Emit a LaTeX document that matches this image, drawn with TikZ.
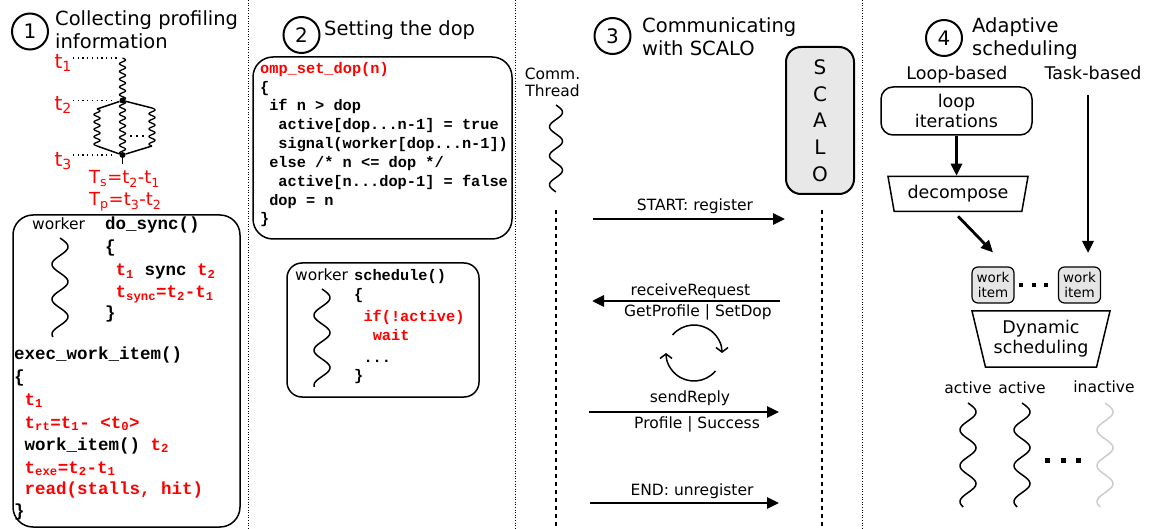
\documentclass[tikz,border=0pt]{standalone}
\usepackage{fontspec}
\setmainfont{DejaVu Sans}
\setmonofont{Liberation Mono}
\usetikzlibrary{shapes.geometric}
\usetikzlibrary{arrows.meta}
\tikzstyle{sep}=[line width=1pt, dash pattern=on 1pt off 1.6pt]
\tikzstyle{numcircle}=[circle, draw, line width=2pt, minimum size=36pt, inner sep=0pt, font=\fontsize{20}{20}\selectfont]
\tikzstyle{title}=[anchor=north west, inner sep=0pt, align=left, font=\fontsize{19.5}{23}\selectfont]
\tikzstyle{lbl}=[anchor=base, inner sep=0pt, font=\fontsize{15.5}{17}\selectfont]
\tikzstyle{biglbl}=[anchor=base, inner sep=0pt, font=\fontsize{17.5}{20}\selectfont]
\tikzstyle{code}=[anchor=base west, inner sep=0pt, font=\fontsize{17.5}{20}\selectfont\ttfamily\bfseries]
\tikzstyle{smallcode}=[code, font=\fontsize{15.3}{19}\selectfont\ttfamily\bfseries]
\tikzstyle{codebox}=[draw, line width=1.5pt, rounded corners=20pt, inner sep=0pt]
\tikzstyle{arrow}=[-{Triangle[length=12pt,width=11pt]}, line width=2.8pt]
\tikzstyle{cycle}=[-{Straight Barb[length=4.5pt,width=12pt]}, line width=1.5pt]
\tikzstyle{lifeline}=[line width=1.5pt, dash pattern=on 4pt off 4pt]
\tikzstyle{guide}=[line width=1.3pt, dash pattern=on 1.3pt off 3.4pt]
\tikzstyle{dot}=[circle, fill, inner sep=0pt, minimum size=6pt]
\tikzstyle{tlabel}=[anchor=east, inner sep=1pt, text=red, font=\fontsize{20}{20}\selectfont]
\tikzstyle{item}=[draw, fill=black!10, line width=1.2pt, rounded corners=6pt, minimum width=42pt, minimum height=36pt, inner sep=0pt, align=center, font=\fontsize{13.5}{15.5}\selectfont]
\tikzstyle{funnel}=[draw, line width=1.5pt, trapezium, shape border rotate=180, trapezium stretches body, trapezium angle=70, inner sep=0pt, align=center, font=\fontsize{17.5}{20}\selectfont]
\newcommand{\redt}[1]{\textcolor{red}{#1}}
% wavy thread: [style]{x}{y top}{y bottom}{amplitude}{periods}
\newcommand{\thread}[6][]{\draw[line width=1.5pt, domain=0:1, samples=140, smooth, #1] plot ({#2+#5*sin(360*#6*\x)}, {#3+(#4-#3)*\x});}

\begin{document}
\begin{tikzpicture}[x=1pt, y=-1pt]
  \useasboundingbox (0,0) rectangle (1151,529);
  % column separators
  \draw[sep] (248,0) -- (248,529);
  \draw[sep] (515,0) -- (515,529);
  \draw[sep] (862,0) -- (862,529);

  % (1) profiling
  \node[numcircle] (none) at (30,31.5) {1};
  \node[title] at (55,10.2) {Collecting profiling\\information};
  \node[tlabel] (tone) at (73,63) {t\textsubscript{1}};
  \node[tlabel] (ttwo) at (73,105) {t\textsubscript{2}};
  \node[tlabel] (tthree) at (73,161) {t\textsubscript{3}};
  \coordinate (top) at (122.5,58);
  \node[dot] (fork) at (122.5,100.5) {};
  \node[dot] (join) at (122.5,155) {};
  \coordinate (lt) at (97,109);
  \coordinate (rt) at (152,108);
  \coordinate (lb) at (97,146);
  \coordinate (rb) at (152,146);
  \draw[guide, shorten >=6pt] (tone.east |- top) -- (top);
  \draw[guide, shorten >=6pt] (ttwo.east |- fork) -- (fork);
  \draw[guide, shorten >=6pt] (tthree.east |- join) -- (join);
  \thread[line width=1.3pt]{122.5}{58}{100.5}{3}{5.5}
  \thread[line width=1.3pt]{122.5}{100.5}{155}{3}{7}
  \thread[line width=1.3pt]{97}{109}{146}{3}{5}
  \thread[line width=1.3pt]{152}{108}{146}{3}{5}
  \draw[line width=1.5pt] (lt) -- (fork) -- (rt);
  \draw[line width=1.5pt] (lb) -- (join) -- (rb);
  \draw[line width=1.5pt] (join) -- ++(0,9);
  \draw[line width=1.5pt, dash pattern=on 1.5pt off 4.5pt] (130,136) -- (145,136);
  \node[anchor=base west, inner sep=0pt, text=red, font=\fontsize{18}{18}\selectfont] (tsdiff) at (89,184) {T\textsubscript{s}=t\textsubscript{2}-t\textsubscript{1}};
  \node[anchor=base west, inner sep=0pt, text=red, font=\fontsize{18}{18}\selectfont] (tpdiff) at (89,206) {T\textsubscript{p}=t\textsubscript{3}-t\textsubscript{2}};

  \node[codebox, minimum width=227pt, minimum height=312pt] (profbox) at (126.5,371) {};
  \node[lbl, anchor=base west] (wone) at (32,230) {worker};
  \thread{60}{238}{337}{8}{2.83}
  \foreach \x/\y/\txt in {105/230/{do\_sync()}, 105/253/\{,
      115.5/276/{\redt{t\textsubscript{1}} sync \redt{t\textsubscript{2}}},
      115.5/298/{\redt{t\textsubscript{sync}=t\textsubscript{2}-t\textsubscript{1}}},
      105/318/\}, 14/359/{exec\_work\_item()}, 14/382/\{,
      24.5/405/{\redt{t\textsubscript{1}}},
      24.5/428/{\redt{t\textsubscript{rt}=t\textsubscript{1}- <t\textsubscript{0}>}},
      24.5/450/{work\_item() \redt{t\textsubscript{2}}},
      24.5/473/{\redt{t\textsubscript{exe}=t\textsubscript{2}-t\textsubscript{1}}},
      24.5/494/{\redt{read(stalls, hit)}}, 14/516/\}}
    \node[code] at (\x,\y) {\txt};

  % (2) dop
  \node[numcircle] (ntwo) at (301.5,35) {2};
  \node[title, anchor=base west] at (324,36) {Setting the dop};
  \node[codebox, minimum width=259pt, minimum height=182pt] (dopbox) at (382.5,148) {};
  \foreach \x/\y/\txt in {260/74/{\redt{omp\_set\_dop(n)}}, 260/93/\{,
      269.1/111/{if n > dop}, 278.2/130/{active[dop...n-1] = true},
      278.2/149/{signal(worker[dop...n-1])}, 269.1/168/{else /* n <= dop */},
      278.2/187/{active[n...dop-1] = false}, 269.1/206/{dop = n}, 260/224/\}}
    \node[smallcode] at (\x,\y) {\txt};
  \node[codebox, rounded corners=15pt, minimum width=192pt, minimum height=134pt] (schedbox) at (383,330) {};
  \node[lbl, anchor=base west] (wtwo) at (295,280) {worker};
  \thread{322}{289}{387}{8}{2.8}
  \foreach \x/\y/\txt in {354/280/{schedule()}, 354/300/\{,
      363.3/321/{\redt{if(!active)}}, 372.6/341/{\redt{wait}},
      363.3/362/{...}, 354/380/\}}
    \node[smallcode] at (\x,\y) {\txt};

  % (3) SCALO
  \node[numcircle] (nthree) at (612.5,36) {3};
  \node[title] at (642,17.2) {Communicating\\with SCALO};
  \node[lbl] (comm) at (552.5,80) {Comm.};
  \node[lbl] (commth) at (552.5,97) {Thread};
  \thread{556}{105}{192}{6.5}{3}
  \node[draw, fill=black!9, line width=2pt, rounded corners=15pt, minimum width=68pt, minimum height=147pt, inner sep=0pt, align=center, font=\fontsize{20}{26.75}\selectfont] (scalo) at (820,120.5) {S\\C\\A\\L\\O};
  \coordinate (commtop) at (556,210);
  \coordinate (commend) at (556,529);
  \coordinate (scalotop) at (822,210);
  \coordinate (scaloend) at (822,529);
  \draw[lifeline] (commtop) -- (commend);
  \draw[lifeline] (scalotop) -- (scaloend);
  \coordinate (startL) at (593,219);
  \coordinate (startR) at (785,219);
  \coordinate (recvR) at (780,301);
  \coordinate (recvL) at (592,301);
  \coordinate (sendL) at (589,412);
  \coordinate (sendR) at (779,412);
  \coordinate (endL) at (590,503);
  \coordinate (endR) at (779,503);
  \draw[arrow] (startL) -- (startR);
  \draw[arrow] (recvR) -- (recvL);
  \draw[arrow] (sendL) -- (sendR);
  \draw[arrow] (endL) -- (endR);
  \node[lbl] at (695,211) {START: register};
  \node[lbl] at (690.5,295) {receiveRequest};
  \node[lbl] at (698,316.7) {GetProfile | SetDop};
  \node[lbl] at (690,402) {sendReply};
  \node[lbl] at (697,428) {Profile | Success};
  \node[lbl] at (692,495) {END: unregister};
  \coordinate (cyc) at (694,353);
  \draw[cycle] ([shift={(140:28pt)}]cyc) arc[start angle=140, end angle=0, radius=28pt];
  \draw[cycle] ([shift={(-40:28pt)}]cyc) arc[start angle=-40, end angle=-180, radius=28pt];

  % (4) scheduling
  \node[numcircle] (nfour) at (944,38) {4};
  \node[title] at (972,17.2) {Adaptive\\scheduling};
  \node[biglbl] at (957,80) {Loop-based};
  \node[biglbl] at (1093,80) {Task-based};
  \node[draw, line width=1.5pt, rounded corners=12pt, minimum width=151pt, minimum height=48pt, align=center, font=\fontsize{17.5}{20}\selectfont] (loopit) at (956.5,111) {loop\\iterations};
  \node[funnel, minimum width=140pt, minimum height=35pt] (decomp) at (958,194) {decompose};
  \node[item] (itemA) at (993,285) {work\\item};
  \node[item] (itemB) at (1079.5,285) {work\\item};
  \draw[line width=4pt, dash pattern=on 4pt off 8.5pt] (1019,285) -- (1050,285);
  \node[funnel, minimum width=138pt, minimum height=56pt] (dyn) at (1041,339) {Dynamic\\scheduling};
  \coordinate (taskstart) at (1088,95);
  \coordinate (taskend) at (1088,253);
  \draw[arrow] (loopit.south) -- (loopit.south |- decomp.north);
  \draw[arrow] ([yshift=-4pt]decomp.south) -- ([yshift=14pt]itemA.north);
  \draw[arrow] (taskstart) -- (taskend);
  \node[lbl] at (968,393) {active};
  \node[lbl] at (1022,393) {active};
  \node[lbl] at (1104,392) {inactive};
  \thread{968}{403}{507}{8}{2.9}
  \thread{1022}{403}{507}{8}{2.9}
  \thread[black!20]{1105}{403}{507}{8}{2.9}
  \draw[line width=5pt, dash pattern=on 5pt off 10.5pt] (1045,460) -- (1081,460);
\end{tikzpicture}
\end{document}
